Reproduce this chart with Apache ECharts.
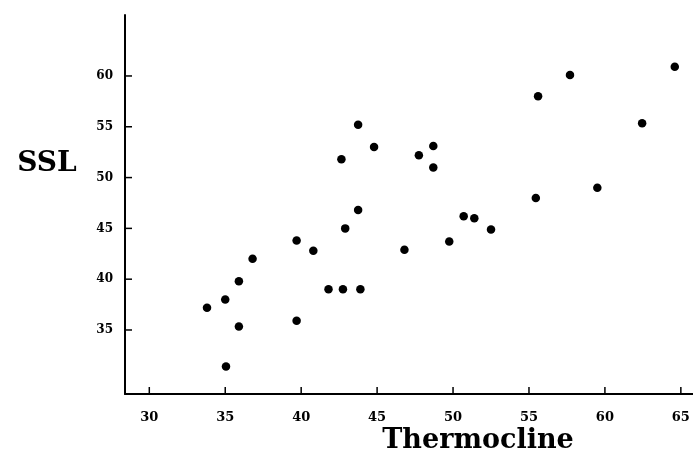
<!DOCTYPE html>
<html>
<head>
<meta charset="utf-8">
<script src="https://cdn.jsdelivr.net/npm/echarts@6/dist/echarts.min.js"></script>
<style>
    html, body {margin: 0; padding: 0; background: #fff;}
    #chart {width: 693px; height: 460px;}
</style>
</head>
<body>
<div id="chart"></div>
<script>
// 读图估出的数据点 (Thermocline, SSL)
var aThermocline = [33.8, 35.0, 35.05, 35.9, 35.9, 36.8, 39.7, 39.7, 40.8, 41.8, 42.75, 43.9,
    42.9, 42.65, 43.75, 43.75, 44.8, 46.8, 47.75, 48.7, 48.7, 49.75, 50.7, 51.4, 52.5,
    55.45, 55.6, 57.7, 59.5, 62.45, 64.6];
var aSSL = [37.2, 38.0, 31.4, 39.8, 35.35, 42.0, 43.8, 35.9, 42.8, 39.0, 39.0, 39.0,
    45.0, 51.8, 55.2, 46.8, 53.0, 42.9, 52.2, 53.1, 51.0, 43.7, 46.2, 46.0, 44.9,
    48.0, 58.0, 60.1, 49.0, 55.35, 60.9];
var aXTicks = [30, 35, 40, 45, 50, 55, 60, 65];
var aYTicks = [35, 40, 45, 50, 55, 60];

var iXMin = 28.4, iXMax = 65.8;
var iYMin = 28.7, iYMax = 66;

function GetPoints() {
    var aPoints = [];
    for (var i = 0; i < aThermocline.length; i++) {
        aPoints.push([aThermocline[i], aSSL[i]]);
    }
    return aPoints
}

// 刻度朝里：inside + customValues 在这里画不出来，改用小矩形按轴的比例尺放
function TickSeries(aData, aSize, aOffset) {
    return {
        type: 'scatter',
        silent: true,
        clip: false,
        symbol: 'rect',
        symbolSize: aSize,
        symbolOffset: aOffset,
        itemStyle: {color: '#000', opacity: 1},
        data: aData
    }
}

var aXTickPts = aXTicks.map(function (v) { return [v, iYMin]; });
var aYTickPts = aYTicks.map(function (v) { return [iXMin, v]; });

var sFont = '"DejaVu Serif", serif';
var jOption = {
    animation: false,
    grid: {left: 125, right: 0, top: 15, bottom: 66},
    xAxis: {
        type: 'value',
        min: iXMin,
        max: iXMax,
        splitLine: {show: false},
        axisLine: {show: true, lineStyle: {color: '#000', width: 2}},
        axisTick: {show: false},
        axisLabel: {customValues: aXTicks, margin: 17, color: '#000', fontSize: 13, fontWeight: 'bold', fontFamily: sFont}
    },
    yAxis: {
        type: 'value',
        min: iYMin,
        max: iYMax,
        splitLine: {show: false},
        axisLine: {show: true, lineStyle: {color: '#000', width: 2}},
        axisTick: {show: false},
        axisLabel: {customValues: aYTicks, margin: 12, color: '#000', fontSize: 12, fontWeight: 'bold', fontFamily: sFont}
    },
    graphic: [
        {type: 'text', x: 47, y: 164, style: {text: 'SSL', fill: '#000', textAlign: 'center', textVerticalAlign: 'middle',
            font: 'bold 28px "DejaVu Serif", serif'}},
        {type: 'text', x: 478, y: 441, style: {text: 'Thermocline', fill: '#000', textAlign: 'center', textVerticalAlign: 'middle',
            font: 'bold 27px "DejaVu Serif", serif'}}
    ],
    series: [
        {
            type: 'scatter',
            symbolSize: 8.5,
            itemStyle: {color: '#000', opacity: 1},
            data: GetPoints()
        },
        TickSeries(aXTickPts, [1.5, 7], [0, -3.5]),
        TickSeries(aYTickPts, [7, 1.5], [3.5, 0])
    ]
};

var myChart = echarts.init(document.getElementById('chart'));
myChart.setOption(jOption);
</script>
</body>
</html>
